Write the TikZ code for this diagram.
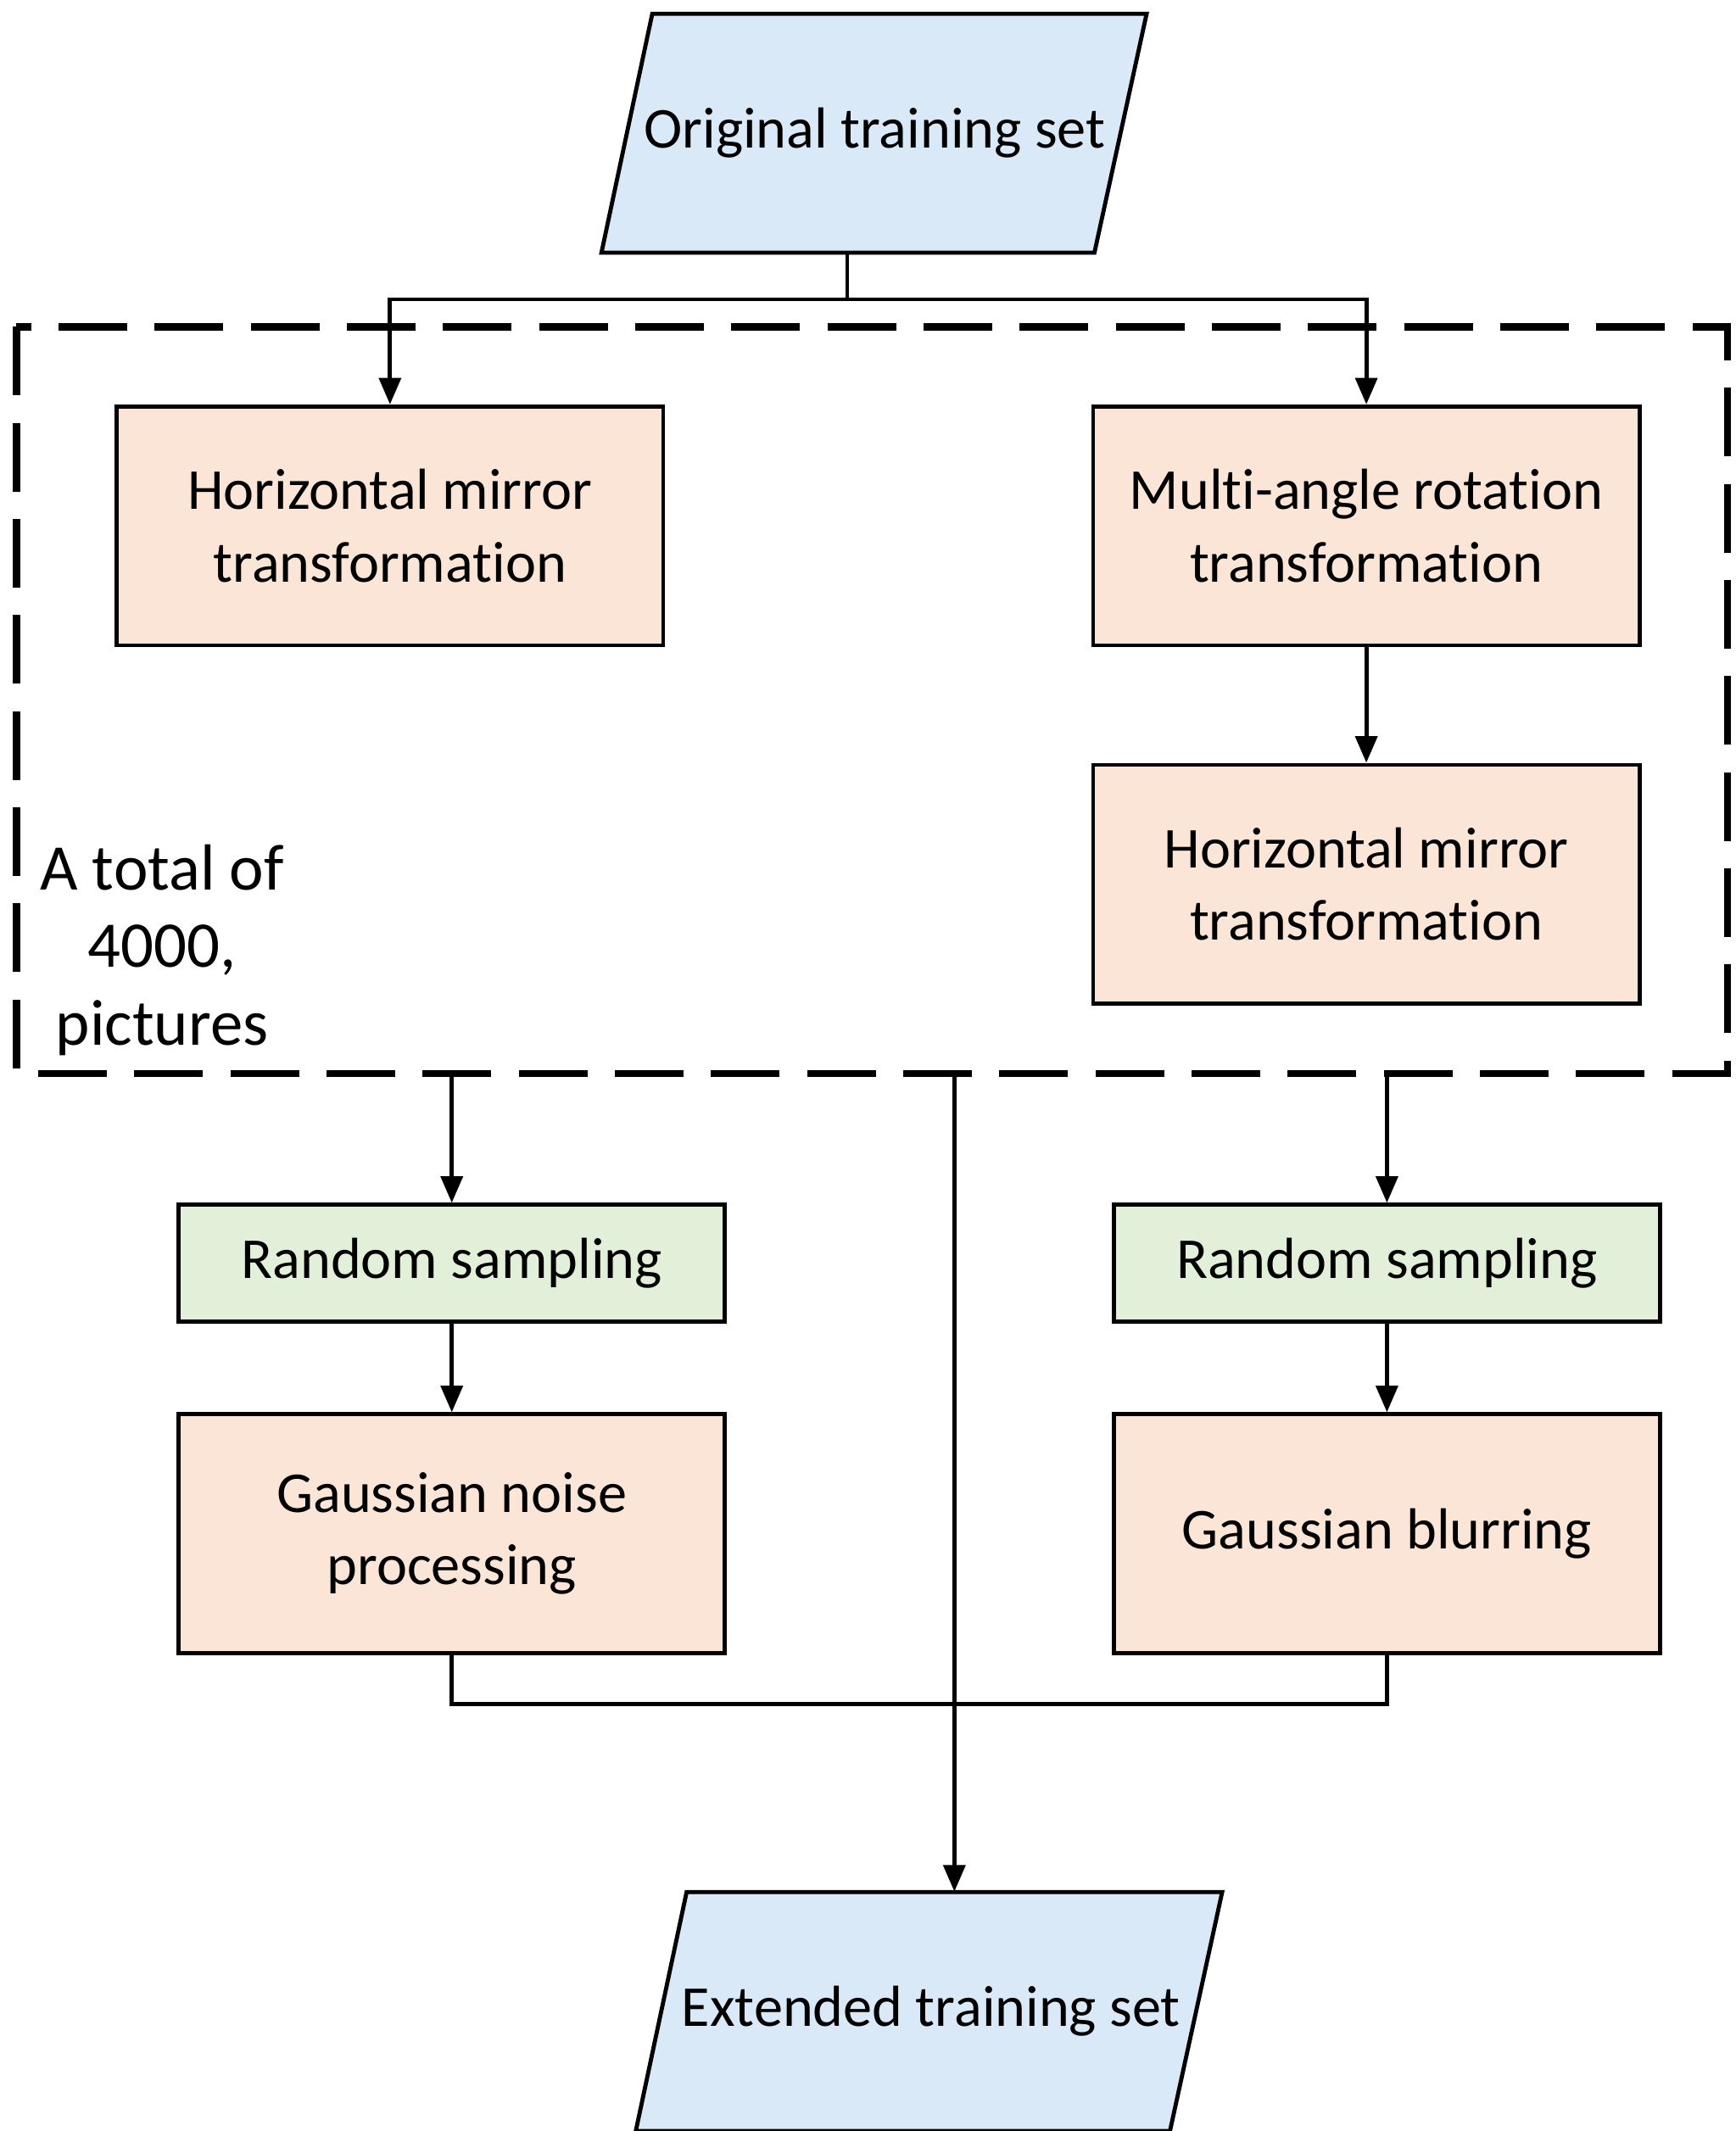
\documentclass[tikz,border=0pt]{standalone}
\usepackage{fontspec}
\setmainfont{Carlito}[Ligatures={NoCommon}]
\usetikzlibrary{arrows.meta}
\begin{document}
\begin{tikzpicture}[x=0.02cm,y=-0.02cm,
  font=\fontsize{24}{30}\selectfont,
  box/.style={draw,line width=1.7pt,align=center,inner sep=0pt},
  orange/.style={box,fill=orgfill,minimum width=7.96cm,minimum height=3.48cm},
  green/.style={box,fill=grnfill,minimum width=7.96cm,minimum height=1.7cm},
  paratext/.style={align=center,inner sep=0pt,minimum width=7.2cm,minimum height=3.48cm},
  parashape/.style={draw,line width=1.7pt,fill=bluefill},
  arr/.style={line width=1.7pt,-{Triangle[length=11pt,width=9pt]}},
  ln/.style={line width=1.7pt}]
\definecolor{orgfill}{HTML}{FBE5D6}
\definecolor{grnfill}{HTML}{E2F0D9}
\definecolor{bluefill}{HTML}{DAE9F7}
\useasboundingbox (0,0) rectangle (1264,1552);
%%%% Parallelogrammi
\draw[parashape] (475,10) -- (835,10) -- (797,184) -- (438,184) -- cycle;
\draw[parashape] (500,1378) -- (890,1378) -- (852,1552) -- (463,1552) -- cycle;
%%%% Nodi
\node[paratext] (orig) at (637,97) {Original training set};
\node[orange] (hm1) at (284,383) {Horizontal mirror\\transformation};
\node[orange] (rot) at (995,383) {Multi-angle rotation\\transformation};
\node[orange] (hm2) at (995,644) {Horizontal mirror\\transformation};
\node[green] (rs1) at (329,920) {Random sampling};
\node[green] (rs2) at (1010,920) {Random sampling};
\node[orange] (gn) at (329,1117) {Gaussian noise\\processing};
\node[orange] (gb) at (1010,1117) {Gaussian blurring};
\node[paratext] (ext) at (678,1465) {Extended training set};
%%%% Riquadro tratteggiato
\draw[line width=3pt,dash pattern=on 1.0cm off 0.4cm] (12,238) rectangle (1258,782);
\node[fill=white,align=center,inner sep=4pt,font=\fontsize{27}{32}\selectfont] (tot) at (118,692) {A total of\\4000,\\pictures};
\coordinate (split) at (617,218);
\coordinate (bl) at (329,782);
\coordinate (bm) at (695,782);
\coordinate (br) at (1010,782);
\coordinate (join) at (695,1241);
%%%% Archi
\draw[ln] (orig.south -| split) -- (split);
\draw[arr] (split) -| (hm1.north);
\draw[arr] (split) -| (rot.north);
\draw[arr] (rot) -- (hm2);
\draw[arr] (bl) -- (rs1);
\draw[arr] (br) -- (rs2);
\draw[arr] (rs1) -- (gn);
\draw[arr] (rs2) -- (gb);
\draw[ln] (gn.south) |- (join) -| (gb.south);
\draw[arr] (bm) -- (ext.north -| bm);
\end{tikzpicture}
\end{document}
